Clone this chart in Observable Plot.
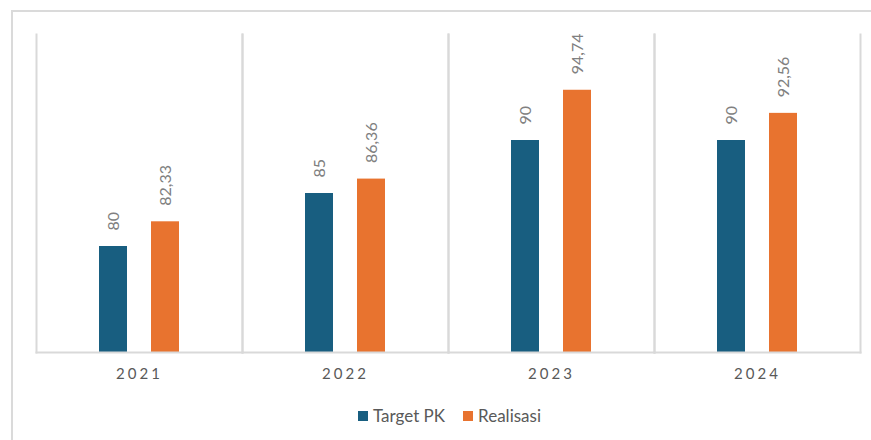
<!DOCTYPE html>
<html>
<head>
<meta charset="utf-8">
<script src="https://cdn.jsdelivr.net/npm/d3@7"></script>
<script src="https://cdn.jsdelivr.net/npm/@observablehq/plot@0.6"></script>
<style>
  html, body { margin: 0; padding: 0; background: #fff; }
  body { width: 871px; height: 440px; position: relative; overflow: hidden; font-family: Lato, "Open Sans", sans-serif; }
  #border { position: absolute; left: 11px; top: 10px; width: 900px; height: 500px; border: 2px solid #dadada; box-sizing: border-box; pointer-events: none; z-index: 2; }
  #chart { position: absolute; left: 0; top: 0; z-index: 1; }
  #legend { position: absolute; left: 358px; top: 405px; display: flex; align-items: center; font-size: 17px; color: #595959; z-index: 3; }
  #legend .item { display: flex; align-items: center; margin-right: 18px; }
  #legend .sw { width: 10px; height: 10px; margin-right: 5px; }
  [aria-label="fx-axis tick label"] text { letter-spacing: 3px; }
</style>
</head>
<body>
<div id="border"></div>
<div id="chart"></div>
<div id="legend"></div>
<script>
const years = ["2021", "2022", "2023", "2024"];
const series = ["Target PK", "Realisasi"];
const targetPK = [80, 85, 90, 90];
const realisasi = [82.33, 86.36, 94.74, 92.56];
const colors = ["#185e80", "#e8732f"];

const rows = [];
years.forEach((yr, i) => {
  rows.push({year: yr, series: series[0], value: targetPK[i]});
  rows.push({year: yr, series: series[1], value: realisasi[i]});
});
const fmt = v => String(v).replace(".", ",");

const chart = Plot.plot({
  width: 871,
  height: 395,
  marginLeft: 34,
  marginRight: 10,
  marginTop: 34,
  marginBottom: 43,
  style: {background: "transparent", fontFamily: "Lato, 'Open Sans', sans-serif"},
  fx: {domain: years, padding: 0, axis: null, label: null},
  x: {domain: series, paddingInner: 0.453, paddingOuter: 1.18, axis: null, label: null},
  y: {domain: [70, 100], axis: null, label: null},
  color: {domain: series, range: colors},
  marks: [
    Plot.frame({anchor: "left", stroke: "#d9d9d9", strokeWidth: 2}),
    Plot.frame({anchor: "right", stroke: "#d9d9d9", strokeWidth: 2}),
    Plot.barY(rows, {fx: "year", x: "series", y1: 70, y2: "value", fill: "series"}),
    Plot.frame({anchor: "bottom", stroke: "#d9d9d9", strokeWidth: 2}),
    Plot.text(rows, {fx: "year", x: "series", y: "value", text: d => fmt(d.value), rotate: -90, textAnchor: "start", dy: -16, fontSize: 16, fill: "#808080"}),
    Plot.axisFx({anchor: "bottom", tickSize: 0, tickPadding: 16, fontSize: 15, color: "#595959", label: null})
  ]
});
document.getElementById("chart").appendChild(chart);

const legend = document.getElementById("legend");
series.forEach((s, i) => {
  const item = document.createElement("div");
  item.className = "item";
  const sw = document.createElement("span");
  sw.className = "sw";
  sw.style.background = colors[i];
  const lab = document.createElement("span");
  lab.textContent = s;
  item.appendChild(sw);
  item.appendChild(lab);
  legend.appendChild(item);
});
</script>
</body>
</html>
